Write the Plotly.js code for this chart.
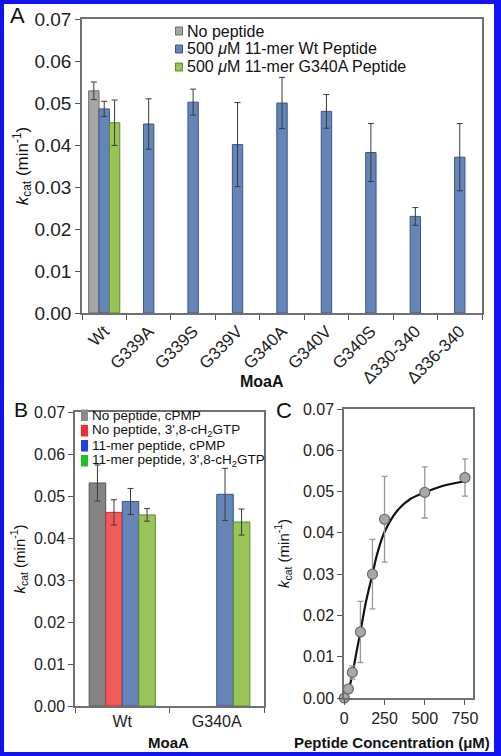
<!DOCTYPE html>
<html><head><meta charset="utf-8">
<script src="https://cdn.plot.ly/plotly-3.0.1.min.js"></script>
<style>html,body{margin:0;padding:0;background:#fff}</style>
</head><body><div id="chart" style="width:501px;height:756px"></div>
<script>
// ---------- Panel A data ----------
const catsA = ['Wt','G339A','G339S','G339V','G340A','G340V','G340S','Δ330-340','Δ336-340'];
const namesA = ['No peptide','500 <i>μ</i>M 11-mer Wt Peptide','500 <i>μ</i>M 11-mer G340A Peptide'];
const noPepA      = [0.0529,null,null,null,null,null,null,null,null];
const noPepErrA   = [0.0021,null,null,null,null,null,null,null,null];
const wtPepA      = [0.0486,0.0450,0.0502,0.0401,0.0500,0.0480,0.0382,0.0230,0.0371];
const wtPepErrA   = [0.0018,0.0060,0.0031,0.0100,0.0061,0.0040,0.0069,0.0021,0.0080];
const g340aPepA   = [0.0453,null,null,null,null,null,null,null,null];
const g340aPepErrA= [0.0054,null,null,null,null,null,null,null,null];

// ---------- Panel B data ----------
const catsB = ['Wt','G340A'];
const namesB = ['No peptide, cPMP',"No peptide, 3',8-cH<sub>2</sub>GTP",'11-mer peptide, cPMP',"11-mer peptide, 3',8-cH<sub>2</sub>GTP"];
const noPepCpmpB   = [0.0531,null];
const noPepCpmpErrB= [0.0043,null];
const noPepGtpB    = [0.0461,null];
const noPepGtpErrB = [0.0030,null];
const pepCpmpB     = [0.0487,0.0504];
const pepCpmpErrB  = [0.0031,0.0062];
const pepGtpB      = [0.0455,0.0438];
const pepGtpErrB   = [0.0015,0.0031];

// ---------- Panel C data ----------
const concC   = [0,25,50,100,175,250,500,750];
const kcatC   = [0.0000,0.0022,0.0062,0.0160,0.0300,0.0433,0.0498,0.0534];
const kcatErrC= [0,0.0005,0.0016,0.0074,0.0084,0.0104,0.0062,0.0045];
const fitConcC= [0,25,50,75,100,133,175,205,250,330,410,500,615,750];
const fitKcatC= [0,0.0018,0.0058,0.0110,0.0160,0.0230,0.0300,0.0350,0.0402,0.0454,0.0482,0.0498,0.0514,0.0525];

// ---------- styles ----------
const W=501,H=756;
const px=x=>x/W, py=y=>1-y/H;
const FONT='Liberation Sans, Arial, sans-serif';
const colA=[['#a6a6a6','#6b6b6b'],['#6585b9','#3b5686'],['#98c458','#5f8a2c']];
const colB=[['#848484','#555555'],['#f25a5a','#b03434'],['#6585b9','#3b5686'],['#98c458','#5f8a2c']];
const legColB=['#8a8a8a','#f52a2a','#1f3fe8','#22c02a'];
const kTitle='<i>k</i><sub>cat</sub> (min<sup>-1</sup>)';

function barTrace(x,y,err,c,xa,ya,name){
  return {type:'bar',x:x,y:y,name:name,xaxis:xa,yaxis:ya,showlegend:false,
    marker:{color:c[0],line:{color:c[1],width:1}},
    error_y:{type:'data',array:err,visible:true,color:'#3a3a3a',thickness:1,width:3}};
}
const data=[
  barTrace(catsA,noPepA,noPepErrA,colA[0],'x','y',namesA[0]),
  barTrace(catsA,wtPepA,wtPepErrA,colA[1],'x','y',namesA[1]),
  barTrace(catsA,g340aPepA,g340aPepErrA,colA[2],'x','y',namesA[2]),
  barTrace(catsB,noPepCpmpB,noPepCpmpErrB,colB[0],'x2','y2',namesB[0]),
  barTrace(catsB,noPepGtpB,noPepGtpErrB,colB[1],'x2','y2',namesB[1]),
  barTrace(catsB,pepCpmpB,pepCpmpErrB,colB[2],'x2','y2',namesB[2]),
  barTrace(catsB,pepGtpB,pepGtpErrB,colB[3],'x2','y2',namesB[3]),
  {type:'scatter',mode:'lines',x:fitConcC,y:fitKcatC,xaxis:'x3',yaxis:'y3',showlegend:false,
    line:{color:'#111',width:2.2,shape:'spline',smoothing:1},hoverinfo:'skip'},
  {type:'scatter',mode:'markers',x:concC,y:kcatC,xaxis:'x3',yaxis:'y3',showlegend:false,cliponaxis:false,
    marker:{size:10,color:'#a8a8a8',line:{color:'#6a6a6a',width:1.2}},
    error_y:{type:'data',array:kcatErrC,visible:true,color:'#999',thickness:1.3,width:3}}
];

function yAx(dom,fs,tfs,so){
  return {domain:dom,range:[0,0.07],dtick:0.01,tick0:0,tickformat:'.2f',ticks:'outside',ticklen:5,
    tickcolor:'#555',showline:true,linecolor:'#707070',linewidth:1.5,mirror:true,showgrid:false,zeroline:false,
    tickfont:{size:fs,color:'#222'},fixedrange:true,
    title:{text:kTitle,font:{size:tfs,color:'#111'},standoff:so}};
}
const layout={
  width:W,height:H,margin:{l:0,r:0,t:0,b:0},paper_bgcolor:'#fff',plot_bgcolor:'#fff',
  font:{family:FONT,color:'#222',size:16},showlegend:false,barmode:'group',bargap:0.3,bargroupgap:0,
  xaxis:{domain:[px(82),px(482)],anchor:'y',type:'category',range:[-0.5,8.5],ticks:'outside',tickson:'boundaries',
    ticklen:5,tickcolor:'#555',tickangle:-45,tickfont:{size:17,color:'#222'},showline:true,linecolor:'#707070',
    linewidth:1.5,mirror:true,showgrid:false,zeroline:false},
  yaxis:Object.assign(yAx([py(313),py(19)],19,17,0),{anchor:'x'}),
  xaxis2:{domain:[px(75),px(264)],anchor:'y2',type:'category',range:[-0.5,1.5],ticks:'outside',tickson:'boundaries',
    ticklen:5,tickcolor:'#555',tickangle:0,tickfont:{size:16,color:'#222'},showline:true,linecolor:'#707070',
    linewidth:1.5,mirror:true,showgrid:false,zeroline:false},
  yaxis2:Object.assign(yAx([py(706),py(412)],16,15,5),{anchor:'x2'}),
  xaxis3:{domain:[px(344),px(473)],anchor:'y3',range:[-2,800],tickvals:[0,250,500,750],ticks:'outside',
    ticklen:5,tickcolor:'#555',tickfont:{size:16,color:'#222'},showline:true,linecolor:'#707070',
    linewidth:1.5,mirror:true,showgrid:false,zeroline:false},
  yaxis3:Object.assign(yAx([py(698),py(409)],16,15,10),{anchor:'x3'}),
  annotations:[],shapes:[]
};
function ann(text,x,y,opt){
  layout.annotations.push(Object.assign({text:text,xref:'paper',yref:'paper',x:px(x),y:py(y),
    showarrow:false,xanchor:'center',yanchor:'middle',font:{size:16,color:'#111'}},opt||{}));
}
// panel letters
ann('A',8,15,{xanchor:'left',font:{size:22,color:'#111'}});
ann('B',12,409,{xanchor:'left',font:{size:21,color:'#111'}});
ann('C',274,410,{xanchor:'left',font:{size:22,color:'#111'}});
// x axis titles
ann('<b>MoaA</b>',262,381,{font:{size:16,color:'#111'}});
ann('<b>MoaA</b>',168,742,{font:{size:15,color:'#111'}});
ann('<b>Peptide Concentration (μM)</b>',392,742,{font:{size:15,color:'#111'}});
// legend A
const legARows=[31,49,67];
namesA.forEach((n,i)=>{
  ann(n,185,legARows[i],{xanchor:'left',font:{size:16,color:'#111'}});
  layout.shapes.push({type:'rect',xref:'paper',yref:'paper',x0:px(175.5),x1:px(182.5),
    y0:py(legARows[i]+4),y1:py(legARows[i]-4),fillcolor:colA[i][0],line:{color:colA[i][1],width:1}});
});
// legend B
const legBRows=[415,430.5,445.5,460.5];
namesB.forEach((n,i)=>{
  ann(n,89.5,legBRows[i],{xanchor:'left',font:{size:13.5,color:'#111'}});
  layout.shapes.push({type:'rect',xref:'paper',yref:'paper',x0:px(81),x1:px(88),
    y0:py(legBRows[i]+6),y1:py(legBRows[i]-5.5),fillcolor:legColB[i],line:{width:0}});
});
// outer blue frame
layout.shapes.push({type:'rect',xref:'paper',yref:'paper',x0:0,x1:px(498),y0:0,y1:1,
  line:{color:'#1212f2',width:8},fillcolor:'rgba(0,0,0,0)'});

Plotly.newPlot('chart',data,layout,{displayModeBar:false});
</script></body></html>
